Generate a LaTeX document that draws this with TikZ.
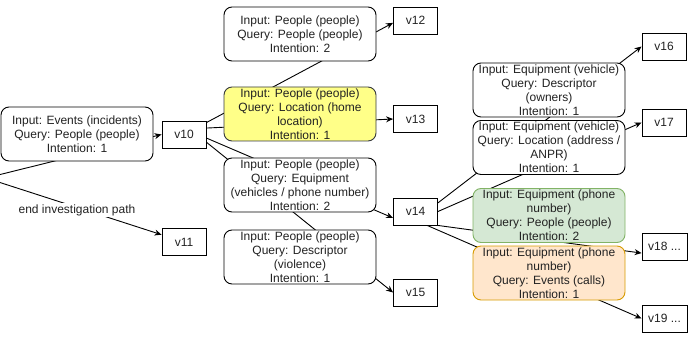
\documentclass[tikz,border=0pt]{standalone}
\usepackage{fontspec}
\setmainfont{Liberation Sans}
\usetikzlibrary{arrows.meta}
\pgfdeclarelayer{bg}
\pgfsetlayers{bg,main}
\definecolor{txt}{HTML}{222222}
\definecolor{yellowfill}{HTML}{FFFF88}
\definecolor{yellowline}{HTML}{36393D}
\definecolor{greenfill}{HTML}{D5E8D4}
\definecolor{greenline}{HTML}{82B366}
\definecolor{orangefill}{HTML}{FFE6CC}
\definecolor{orangeline}{HTML}{D79B00}
\begin{document}
\begin{tikzpicture}[x=1pt,y=-1pt,
  every node/.style={font=\fontsize{12}{14}\selectfont, text=txt},
  qbox/.style={draw=black, fill=white, rounded corners=8pt, minimum width=152pt,
    minimum height=54pt, inner sep=0pt, align=center, line width=0.9pt},
  vbox/.style={draw=black, fill=white, minimum width=44pt, minimum height=27pt,
    inner sep=0pt, line width=0.9pt},
  link/.style={draw=black, line width=0.9pt, -{Stealth[length=7pt,width=6pt]}}]
\useasboundingbox (0,0) rectangle (696,339);

% state nodes
\node[vbox] (v10) at (184,134.5) {v10};
\node[vbox] (v11) at (184,242) {v11};
\node[vbox] (v12) at (415.5,20.5) {v12};
\node[vbox] (v13) at (415.5,119) {v13};
\node[vbox] (v14) at (415.5,211.5) {v14};
\node[vbox] (v15) at (415.5,292.5) {v15};
\node[vbox] (v16) at (664,46.5) {v16};
\node[vbox] (v17) at (664,122.5) {v17};
\node[vbox, minimum width=45pt] (v18) at (664.5,246.5) {v18 ...};
\node[vbox, minimum width=45pt] (v19) at (664.5,318.5) {v19 ...};

% query steps (edge labels)
\node[qbox] (qa) at (77,134) {Input: Events (incidents)\\Query: People (people)\\Intention: 1};
\node[qbox] (qb) at (300,34) {Input: People (people)\\Query: People (people)\\Intention: 2};
\node[qbox, fill=yellowfill, draw=yellowline] (qc) at (300,114)
  {Input: People (people)\\Query: Location (home\\location)\\Intention: 1};
\node[qbox] (qd) at (300,185) {Input: People (people)\\Query: Equipment\\(vehicles / phone number)\\Intention: 2};
\node[qbox] (qe) at (300,257) {Input: People (people)\\Query: Descriptor\\(violence)\\Intention: 1};
\node[qbox] (qf) at (549,90) {Input: Equipment (vehicle)\\Query: Descriptor\\(owners)\\Intention: 1};
\node[qbox] (qg) at (549,147.5) {Input: Equipment (vehicle)\\Query: Location (address /\\ANPR)\\Intention: 1};
\node[qbox, fill=greenfill, draw=greenline] (qh) at (549,215.5)
  {Input: Equipment (phone\\number)\\Query: People (people)\\Intention: 2};
\node[qbox, fill=orangefill, draw=orangeline] (qi) at (549,273)
  {Input: Equipment (phone\\number)\\Query: Events (calls)\\Intention: 1};

\node[fill=white, inner sep=1pt] (endlbl) at (77,210) {end investigation path};

% transitions, behind the boxes
\begin{pgfonlayer}{bg}
\coordinate (src) at (-14,178);
\draw[link] (src) -- (v10.west);
\draw[link] (src) -- (v11.162);
\draw[link] (v10.28) -- (v12.186);
\draw[link] (v10.16) -- (v13.west);
\draw[link] (v10.-9) -- (v14.196);
\draw[link] (v10.-19) -- (v15.west);
\draw[link] (v14.21) -- (v16.west);
\draw[link] (v14.east) -- (v17.west);
\draw[link] (v14.south east) -- (v18.196);
\draw[link] (v14.-50) -- (v19.west);
\end{pgfonlayer}
\end{tikzpicture}
\end{document}
